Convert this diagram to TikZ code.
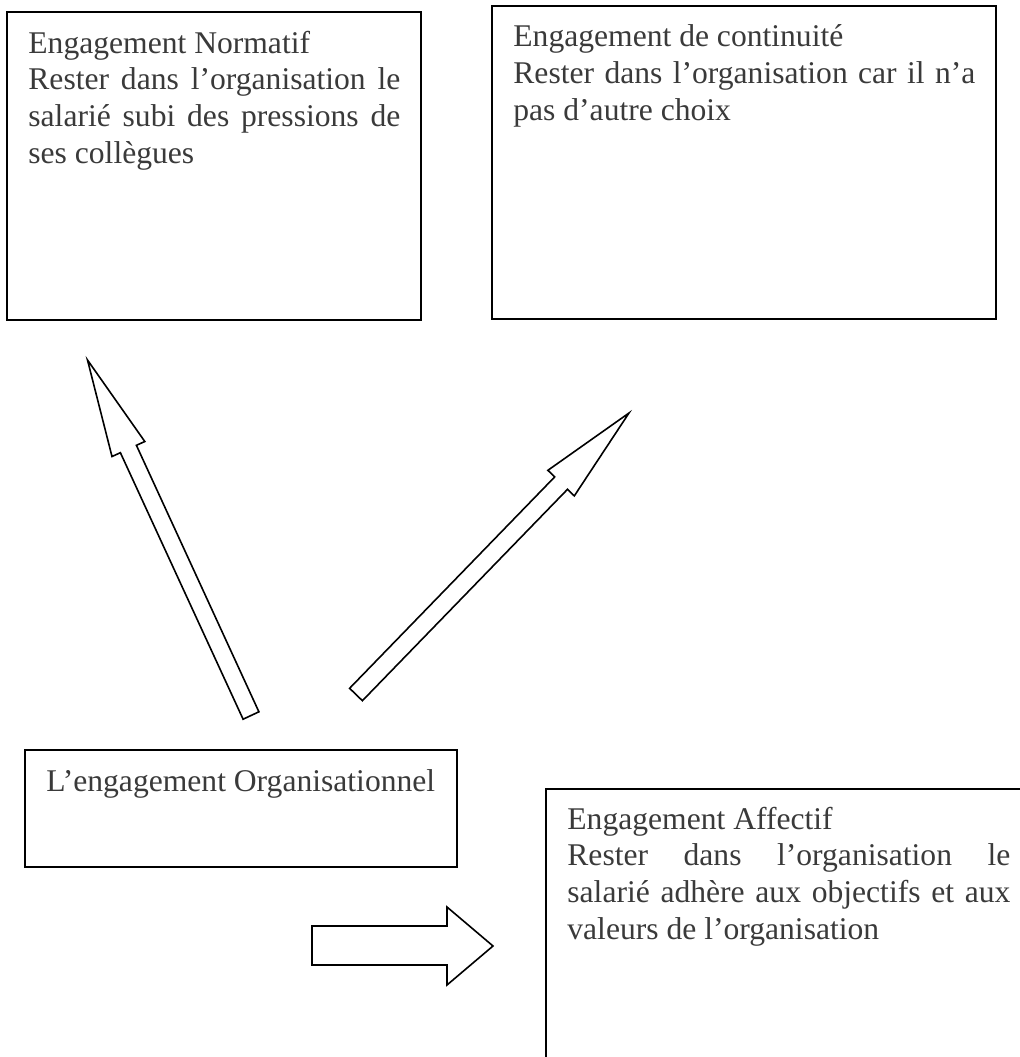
\documentclass[tikz,border=0pt]{standalone}
\usepackage{fontspec}
\setmainfont{Liberation Serif}
\definecolor{textgrey}{HTML}{3A3A3A}

\begin{document}
\begin{tikzpicture}[x=0.5pt,y=-0.5pt,
	frame/.style={draw=black, line width=1pt},
	block/.style={draw=black, line width=0.8pt, fill=white, line join=miter},
	txt/.style={anchor=north west, inner sep=0pt, text=textgrey, align=justify,
		font=\fontsize{15.8}{18.35}\selectfont}]
	\useasboundingbox (0,0) rectangle (1020,1057);
	\clip (0,0) rectangle (1020,1057);
	% les quatre cadres
	\draw[frame] (7,12) coordinate (nbox) rectangle ++(414,308);
	\draw[frame] (492,6) coordinate (cbox) rectangle ++(504,313);
	\draw[frame] (25,750) coordinate (obox) rectangle ++(432,117);
	\draw[frame] (546,789) coordinate (abox) rectangle ++(485,300);
	\node[txt, text width=186pt] (normatif) at ([shift={(21,18.4)}]nbox)
		{Engagement Normatif\\Rester dans l’organisation le\linebreak salarié subi des pressions de\linebreak ses collègues};
	\node[txt, text width=231pt] (continuite) at ([shift={(21,18.4)}]cbox)
		{Engagement de continuité\\Rester dans l’organisation car il n’a\linebreak pas d’autre choix};
	\node[txt] (organisationnel) at ([shift={(21,19.4)}]obox) {L’engagement Organisationnel};
	\node[txt, text width=221.5pt] (affectif) at ([shift={(21,17.4)}]abox)
		{Engagement Affectif\\Rester dans l’organisation le\linebreak salarié adhère aux objectifs et aux\linebreak valeurs de l’organisation};
	% fleches
	\draw[block] (243.1,719.2) -- (258.9,711.8) -- (136.4,445.3) -- (144.8,441.5) -- (87.5,360)
		-- (112.0,456.5) -- (120.4,452.7) -- cycle;
	\draw[block] (349.6,688.3) -- (362.4,700.7) -- (567.5,489.3) -- (574.3,495.9) -- (629,413)
		-- (547.9,470.3) -- (554.7,476.9) -- cycle;
	\draw[block] (312,926) -- ++(135,0) -- ++(0,-19) -- ++(46,39) -- ++(-46,39) -- ++(0,-20) -- ++(-135,0) -- cycle;
\end{tikzpicture}
\end{document}
